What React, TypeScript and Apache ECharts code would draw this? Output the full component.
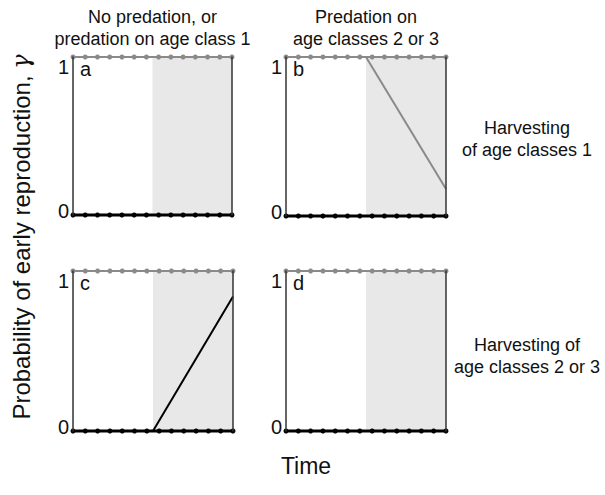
import React, { useEffect, useRef } from "react";
import * as echarts from "echarts";

// ---- data ----
const TIME = [0, 1, 2, 3, 4, 5, 6, 7, 8, 9, 10, 11, 12, 13];
const GAMMA_TOP = [1, 1, 1, 1, 1, 1, 1, 1, 1, 1, 1, 1, 1, 1];
const GAMMA_BOTTOM = [0, 0, 0, 0, 0, 0, 0, 0, 0, 0, 0, 0, 0, 0];
const SHADE_START = 6.5;
const SHADE_END = 13;
const PANEL_B_LINE = [[6.5, 1], [13, 0.17]];
const PANEL_C_LINE = [[6.5, 0], [13, 0.84]];
const PANEL_LETTERS = ["a", "b", "c", "d"];
const Y_TICKS = [0, 1];
const COL_TITLES = ["No predation, or\npredation on age class 1", "Predation on\nage classes 2 or 3"];
const ROW_TITLES = ["Harvesting\nof age classes 1", "Harvesting of\nage classes 2 or 3"];
const Y_LABEL = "Probability of early reproduction, ";
const Y_LABEL_SYMBOL = "\u03b3";
const X_LABEL = "Time";

const FONT = "'Liberation Sans', Arial, sans-serif";
const GRAY = "#8a8a8a";
const AXIS = "#333333";
const SHADE = "#e8e8e8";

const GRIDS = [
  { left: 73, top: 57, width: 159, height: 158 },
  { left: 286, top: 57, width: 160, height: 159 },
  { left: 73, top: 271, width: 160, height: 160 },
  { left: 286, top: 271, width: 160, height: 160 },
];

export default function App() {
  const ref = useRef<HTMLDivElement>(null);
  useEffect(() => {
    if (!ref.current) return;
    const chart = echarts.init(ref.current, undefined, { renderer: "svg" });
    const xAxis: any[] = [];
    const yAxis: any[] = [];
    const series: any[] = [];
    const graphic: any[] = [];
    GRIDS.forEach((g, i) => {
      xAxis.push({ gridIndex: i, type: "value", min: 0, max: 13, show: false });
      yAxis.push({
        gridIndex: i,
        type: "value",
        min: Y_TICKS[0],
        max: Y_TICKS[Y_TICKS.length - 1],
        interval: 1,
        position: "left",
        z: 5,
        axisLine: { show: true, lineStyle: { color: AXIS, width: 1.5 } },
        axisTick: { show: false },
        splitLine: { show: false },
        axisLabel: {
          fontSize: 20,
          color: "#111",
          fontFamily: FONT,
          margin: 4,
          verticalAlignMaxLabel: "top",
          verticalAlignMinLabel: "middle",
          formatter: (v: number) => (v === Y_TICKS[0] ? `{lo|${v}}` : `{hi|${v}}`),
          rich: {
            lo: { fontSize: 20, fontFamily: FONT, color: "#111", padding: [0, 0, 8, 0] },
            hi: { fontSize: 20, fontFamily: FONT, color: "#111" },
          },
        },
      });
      yAxis.push({
        gridIndex: i,
        type: "value",
        min: 0,
        max: 1,
        position: "right",
        z: 5,
        axisLine: { show: true, lineStyle: { color: AXIS, width: 1.5 } },
        axisTick: { show: false },
        axisLabel: { show: false },
        splitLine: { show: false },
      });
      // shading
      series.push({
        type: "line",
        xAxisIndex: i,
        yAxisIndex: i * 2,
        data: [],
        z: 1,
        markArea: {
          silent: true,
          itemStyle: { color: SHADE },
          data: [[{ xAxis: SHADE_START, yAxis: 0 }, { xAxis: SHADE_END, yAxis: 1 }]],
        },
      });
      series.push({
        type: "line",
        xAxisIndex: i,
        yAxisIndex: i * 2,
        data: TIME.map((t, k) => [t, GAMMA_TOP[k]]),
        clip: false,
        z: 3,
        symbol: "circle",
        symbolSize: 5,
        lineStyle: { color: GRAY, width: 2 },
        itemStyle: { color: GRAY },
      });
      series.push({
        type: "line",
        xAxisIndex: i,
        yAxisIndex: i * 2,
        data: TIME.map((t, k) => [t, GAMMA_BOTTOM[k]]),
        clip: false,
        z: 4,
        symbol: "circle",
        symbolSize: 5,
        lineStyle: { color: "#000", width: 3 },
        itemStyle: { color: "#000" },
      });
      graphic.push({
        type: "text",
        left: g.left + 7,
        top: g.top + 2,
        style: { text: PANEL_LETTERS[i], fontSize: 20, fontFamily: FONT, fill: "#111" },
      });
    });
    series.push({
      type: "line",
      xAxisIndex: 1,
      yAxisIndex: 2,
      data: PANEL_B_LINE,
      symbol: "none",
      z: 3,
      lineStyle: { color: GRAY, width: 2 },
    });
    series.push({
      type: "line",
      xAxisIndex: 2,
      yAxisIndex: 4,
      data: PANEL_C_LINE,
      symbol: "none",
      z: 3,
      lineStyle: { color: "#000", width: 2 },
    });
    const colCenters = [152.5, 366];
    COL_TITLES.forEach((t, i) => {
      graphic.push({
        type: "text",
        x: colCenters[i],
        y: 6,
        style: { text: t, fontSize: 18, lineHeight: 22, fontFamily: FONT, fill: "#111", align: "center", verticalAlign: "top" },
      });
    });
    const rowCenters = [139, 356];
    ROW_TITLES.forEach((t, i) => {
      graphic.push({
        type: "text",
        x: 527,
        y: rowCenters[i],
        style: { text: t, fontSize: 18, lineHeight: 22, fontFamily: FONT, fill: "#111", align: "center", verticalAlign: "middle" },
      });
    });
    graphic.push({
      type: "text",
      x: 21,
      y: 237,
      rotation: Math.PI / 2,
      style: {
        text: `${Y_LABEL}{g|${Y_LABEL_SYMBOL}}`,
        fontSize: 24,
        fontFamily: FONT,
        fill: "#111",
        align: "center",
        verticalAlign: "middle",
        rich: { g: { fontSize: 24, fontFamily: "'DejaVu Serif', serif", fontStyle: "italic", fill: "#111" } },
      },
    });
    graphic.push({
      type: "text",
      x: 306,
      y: 466,
      style: { text: X_LABEL, fontSize: 23, fontFamily: FONT, fill: "#111", align: "center", verticalAlign: "middle" },
    });
    chart.setOption({
      animation: false,
      backgroundColor: "#fff",
      grid: GRIDS.map((g) => ({ ...g })),
      xAxis,
      yAxis,
      series,
      graphic,
    });
    return () => chart.dispose();
  }, []);
  return <div ref={ref} style={{ position: "fixed", left: 0, top: 0, width: 605, height: 495 }} />;
}
